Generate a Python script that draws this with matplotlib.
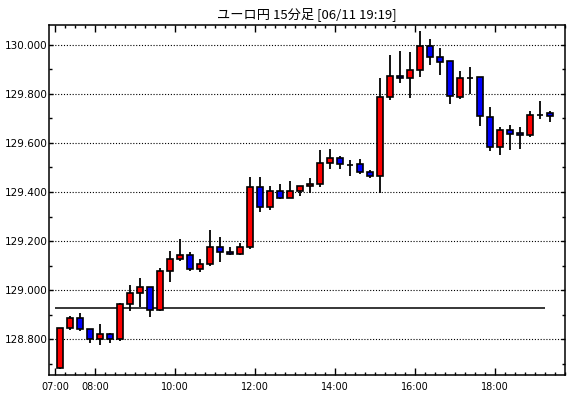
import numpy as np
import matplotlib
matplotlib.use("Agg")
import matplotlib.pyplot as plt
from matplotlib.ticker import FixedLocator, MultipleLocator, FormatStrFormatter

# =========================
# DATA (15-minute candles, EUR/JPY, from 07:00)
# =========================
TITLE = "ユーロ円 15分足 [06/11 19:19]"
START_MIN = 7 * 60
STEP_MIN = 15

opens = [128.684, 128.845, 128.886, 128.841, 128.801, 128.823, 128.801, 128.943, 128.987, 129.012,
         128.918, 129.077, 129.126, 129.142, 129.085, 129.106, 129.175, 129.154, 129.146, 129.175,
         129.419, 129.338, 129.405, 129.374, 129.405, 129.423, 129.433, 129.517, 129.537, 129.511,
         129.513, 129.480, 129.464, 129.786, 129.871, 129.863, 129.896, 129.993, 129.951, 129.932,
         129.786, 129.865, 129.867, 129.704, 129.582, 129.651, 129.639, 129.631, 129.714, 129.721]
highs = [128.847, 128.894, 128.907, 128.842, 128.861, 128.825, 128.947, 129.021, 129.048, 129.013,
         129.090, 129.158, 129.207, 129.154, 129.127, 129.245, 129.215, 129.175, 129.191, 129.462,
         129.462, 129.424, 129.433, 129.444, 129.424, 129.456, 129.571, 129.575, 129.547, 129.530,
         129.533, 129.488, 129.863, 129.958, 129.974, 129.970, 130.057, 130.023, 129.987, 129.933,
         129.893, 129.909, 129.867, 129.746, 129.665, 129.672, 129.665, 129.729, 129.771, 129.729]
lows = [128.680, 128.839, 128.833, 128.786, 128.778, 128.786, 128.792, 128.917, 128.933, 128.892,
        128.917, 129.035, 129.120, 129.077, 129.073, 129.097, 129.116, 129.142, 129.142, 129.167,
        129.317, 129.325, 129.373, 129.374, 129.384, 129.395, 129.422, 129.492, 129.492, 129.466,
        129.475, 129.458, 129.397, 129.774, 129.845, 129.784, 129.867, 129.919, 129.878, 129.760,
        129.780, 129.800, 129.670, 129.568, 129.552, 129.572, 129.576, 129.623, 129.699, 129.686]
closes = [128.845, 128.886, 128.841, 128.801, 128.823, 128.801, 128.943, 128.987, 129.012, 128.918,
          129.077, 129.126, 129.142, 129.085, 129.106, 129.175, 129.154, 129.146, 129.175, 129.419,
          129.338, 129.405, 129.374, 129.405, 129.423, 129.433, 129.517, 129.537, 129.513, 129.510,
          129.480, 129.464, 129.786, 129.871, 129.863, 129.896, 129.993, 129.951, 129.928, 129.790,
          129.863, 129.865, 129.708, 129.582, 129.651, 129.637, 129.631, 129.712, 129.714, 129.711]

ref_level = 128.926  # horizontal reference line

x_labels = ["07:00", "08:00", "10:00", "12:00", "14:00", "16:00", "18:00"]
y_ticks = [128.8, 129.0, 129.2, 129.4, 129.6, 129.8, 130.0]

UP_COLOR = "#ff0000"
DOWN_COLOR = "#0000ff"


def slot(label: str) -> float:
    h, m = label.split(":")
    return (int(h) * 60 + int(m) - START_MIN) / STEP_MIN


# =========================
# PLOT
# =========================
plt.rcParams["font.family"] = ["DejaVu Sans"]

fig = plt.figure(figsize=(5.7, 3.98), dpi=100)
ax = fig.add_axes([0.0865, 0.057, 0.9053, 0.880])

o = np.array(opens)
h = np.array(highs)
l = np.array(lows)
c = np.array(closes)
x = np.arange(len(o)) + 0.5
colors = [UP_COLOR if cc >= oo else DOWN_COLOR for oo, cc in zip(o, c)]

ax.vlines(x, l, h, color="black", linewidth=1.3, zorder=2)
ax.bar(x, np.abs(c - o), bottom=np.minimum(o, c), width=0.62,
       color=colors, edgecolor="black", linewidth=1.2, zorder=3)

ax.hlines(ref_level, slot("07:00"), len(o) - 1, color="black", linewidth=1.1, zorder=1)

ax.set_xlim(-0.6, 51.0)
ax.set_ylim(128.653, 130.080)

# y axis
ax.yaxis.set_major_locator(FixedLocator(y_ticks))
ax.yaxis.set_minor_locator(MultipleLocator(0.1))
ax.yaxis.set_major_formatter(FormatStrFormatter("%.3f"))
ax.grid(axis="y", which="major", color="black", linestyle=(0, (1, 1.6)), linewidth=0.8, zorder=0)

# x axis
major_x = [slot(t) for t in x_labels]
ax.xaxis.set_major_locator(FixedLocator(major_x))
ax.xaxis.set_minor_locator(MultipleLocator(1))
ax.set_xticklabels(x_labels)

ax.tick_params(axis="both", which="both", direction="in", top=True, right=True, color="black")
ax.tick_params(axis="x", which="major", length=5, width=1, pad=5, labelsize=7)
ax.tick_params(axis="x", which="minor", length=2.5, width=1)
ax.tick_params(axis="y", which="major", length=3, width=1, pad=1.5, labelsize=7.5)
ax.tick_params(axis="y", which="minor", length=2.5, width=1)

for sp in ax.spines.values():
    sp.set_linewidth(1.1)

fig.text(0.5386, 0.964, TITLE, ha="center", va="center", fontsize=9.5,
         family=["Noto Sans CJK JP", "DejaVu Sans"])

fig.savefig("out.png", dpi=100)
